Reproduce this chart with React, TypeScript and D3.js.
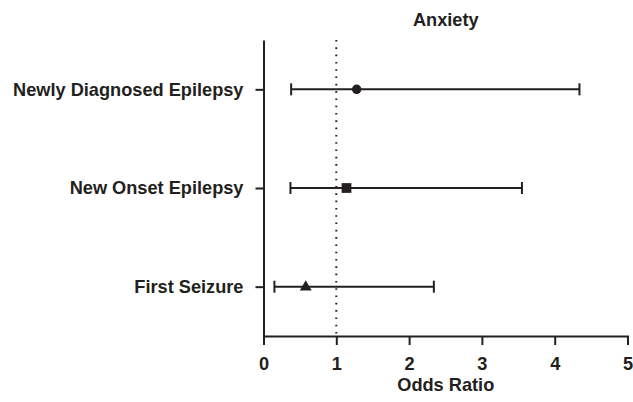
import React, { useEffect, useRef } from 'react';
import * as d3 from 'd3';

const categories = ['Newly Diagnosed Epilepsy', 'New Onset Epilepsy', 'First Seizure'];
const oddsRatio = [1.28, 1.14, 0.58];
const ciLow = [0.38, 0.37, 0.15];
const ciHigh = [4.34, 3.55, 2.34];
const markers = ['circle', 'square', 'triangle'];
const xTicks = [0, 1, 2, 3, 4, 5];

const W = 633;
const H = 402;
const ink = '#231f20';

const draw = (node: SVGSVGElement) => {
    const svg = d3.select(node);
    svg.selectAll('*').remove();

    const margin = { top: 40, right: 5, bottom: 66, left: 263.5 };
    const x = d3.scaleLinear().domain([0, 5]).range([margin.left, W - margin.right - 0.5]);
    const y = d3.scalePoint<string>().domain(categories).range([margin.top, H - margin.bottom]).padding(0.5);

    const font = 'Liberation Sans, Arial, Helvetica, sans-serif';
    const fs = 18.2;

    // x axis
    const xAxis = svg.append('g')
        .attr('transform', `translate(0, ${H - margin.bottom})`)
        .call(d3.axisBottom(x).tickValues(xTicks).tickSize(9).tickPadding(12).tickFormat(d3.format('d')));
    xAxis.select('.domain').attr('stroke', ink).attr('stroke-width', 2);
    xAxis.selectAll('.tick line').attr('stroke', ink).attr('stroke-width', 2);
    xAxis.selectAll('.tick text')
        .attr('fill', ink).attr('font-family', font).attr('font-weight', 'bold').attr('font-size', fs);

    // y axis
    const yAxis = svg.append('g')
        .attr('transform', `translate(${margin.left}, 0)`)
        .call(d3.axisLeft(y).tickSize(8).tickPadding(12).tickSizeOuter(0));
    yAxis.select('.domain').attr('stroke', ink).attr('stroke-width', 2);
    yAxis.selectAll('.tick line').attr('stroke', ink).attr('stroke-width', 2);
    yAxis.selectAll('.tick text')
        .attr('fill', ink).attr('font-family', font).attr('font-weight', 'bold').attr('font-size', fs);

    // reference line at OR = 1
    svg.append('line')
        .attr('x1', x(1)).attr('x2', x(1))
        .attr('y1', margin.top).attr('y2', H - margin.bottom)
        .attr('stroke', ink).attr('stroke-width', 2)
        .attr('stroke-dasharray', '1.6,5.7');

    const rows = categories.map((c, i) => ({ c, or: oddsRatio[i], lo: ciLow[i], hi: ciHigh[i], m: markers[i] }));

    const g = svg.append('g');
    rows.forEach((d) => {
        const cy = y(d.c) as number;
        g.append('line')
            .attr('x1', x(d.lo)).attr('x2', x(d.hi)).attr('y1', cy).attr('y2', cy)
            .attr('stroke', ink).attr('stroke-width', 2);
        [d.lo, d.hi].forEach((v) => {
            g.append('line')
                .attr('x1', x(v)).attr('x2', x(v)).attr('y1', cy - 6).attr('y2', cy + 6)
                .attr('stroke', ink).attr('stroke-width', 2);
        });
        const sym = d.m === 'circle' ? d3.symbolCircle : d.m === 'square' ? d3.symbolSquare : d3.symbolTriangle;
        const size = d.m === 'circle' ? 70 : d.m === 'square' ? 95 : 60;
        g.append('path')
            .attr('d', d3.symbol().type(sym).size(size)())
            .attr('transform', `translate(${x(d.or)}, ${cy + (d.m === 'triangle' ? 0.5 : 0)})`)
            .attr('fill', ink);
    });

    svg.append('text')
        .attr('x', (margin.left + W - margin.right) / 2).attr('y', 25.5)
        .attr('text-anchor', 'middle')
        .attr('font-family', font).attr('font-weight', 'bold').attr('font-size', fs)
        .attr('fill', ink)
        .text('Anxiety');

    svg.append('text')
        .attr('x', (margin.left + W - margin.right) / 2).attr('y', 391)
        .attr('text-anchor', 'middle')
        .attr('font-family', font).attr('font-weight', 'bold').attr('font-size', fs)
        .attr('fill', ink)
        .text('Odds Ratio');
};

export default function App() {
    const ref = useRef<SVGSVGElement>(null);
    useEffect(() => {
        if (ref.current) draw(ref.current);
    }, []);
    return (
        <svg ref={ref} width={W} height={H}
            style={{ position: 'absolute', left: 0, top: 0, background: '#fff' }} />
    );
}
